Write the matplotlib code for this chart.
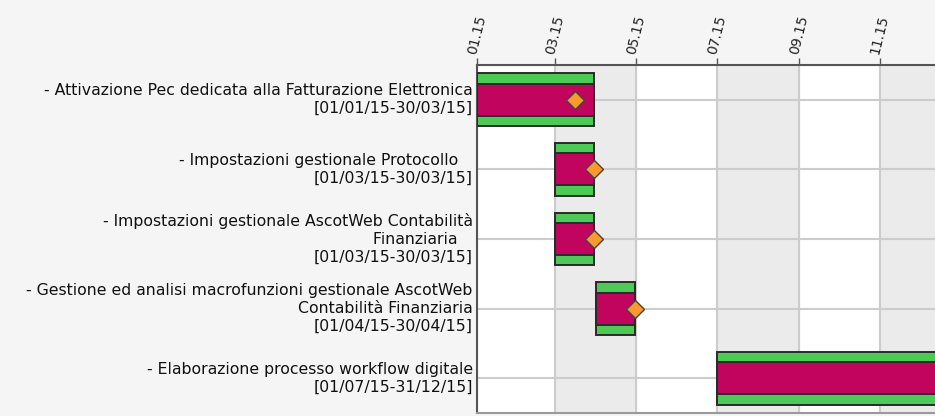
import matplotlib
matplotlib.use("Agg")
import matplotlib.pyplot as plt
import matplotlib.dates as mdates
import datetime as dt

# --------------------------
# Data
# --------------------------
tasks = [
    "- Attivazione Pec dedicata alla Fatturazione Elettronica\n[01/01/15-30/03/15]",
    "- Impostazioni gestionale Protocollo   \n[01/03/15-30/03/15]",
    "- Impostazioni gestionale AscotWeb Contabilità\nFinanziaria   \n[01/03/15-30/03/15]",
    "- Gestione ed analisi macrofunzioni gestionale AscotWeb\nContabilità Finanziaria\n[01/04/15-30/04/15]",
    "- Elaborazione processo workflow digitale\n[01/07/15-31/12/15]",
]
starts = ["2015-01-01", "2015-03-01", "2015-03-01", "2015-04-01", "2015-07-01"]
ends = ["2015-03-30", "2015-03-30", "2015-03-30", "2015-04-30", "2015-12-31"]
milestones = ["2015-03-16", "2015-03-30", "2015-03-30", "2015-04-30", None]

green = "#4cc957"
magenta = "#c1045e"
orange = "#fa9a2e"
edge = "#2a2a2a"

def d(s):
    return mdates.date2num(dt.datetime.strptime(s, "%Y-%m-%d"))

# --------------------------
# Figure
# --------------------------
fig = plt.figure(figsize=(9.35, 4.16), dpi=100, facecolor="#f5f5f5")
ax = fig.add_axes([477 / 935, 3 / 416, 482 / 935, 348 / 416])
ax.set_facecolor("white")

x0 = d("2015-01-01")
x1 = d("2015-12-31")
ax.set_xlim(x0, x1)
ax.set_ylim(len(tasks) - 0.5, -0.5)

# alternating month bands
band_edges = ["2015-01-01", "2015-03-01", "2015-05-01", "2015-07-01",
              "2015-09-01", "2015-11-01", "2016-01-01"]
for i in range(len(band_edges) - 1):
    if i % 2 == 1:
        ax.axvspan(d(band_edges[i]), d(band_edges[i + 1]), color="#ebebeb", zorder=0)

ax.xaxis.set_major_locator(mdates.MonthLocator(bymonth=[1, 3, 5, 7, 9, 11]))
ax.xaxis.set_major_formatter(mdates.DateFormatter("%m.%y"))
ax.xaxis.tick_top()
ax.tick_params(axis="x", which="major", length=5, width=1, color="#555555",
               labelsize=10, labelcolor="#222222", pad=2)
for lbl in ax.get_xticklabels():
    lbl.set_rotation(76)
    lbl.set_ha("center")
    lbl.set_va("bottom")

ax.set_yticks(range(len(tasks)))
ax.set_yticklabels(tasks, fontsize=11.3, color="#111111", linespacing=1.22,
                   ha="right", va="center")
ax.tick_params(axis="y", length=0, pad=3)

ax.grid(True, color="#cccccc", linewidth=1.5, zorder=1)
ax.set_axisbelow(True)

for side in ["top", "left"]:
    ax.spines[side].set_color("#555555")
    ax.spines[side].set_linewidth(1.5)
ax.spines["bottom"].set_color("#999999")
ax.spines["bottom"].set_linewidth(1.5)
ax.spines["right"].set_visible(False)

# bars
for i in range(len(tasks)):
    s = d(starts[i])
    w = d(ends[i]) - s
    ax.barh(i, w, left=s, height=0.76, color=green, edgecolor=edge,
            linewidth=1.4, zorder=3)
    ax.barh(i, w, left=s, height=0.46, color=magenta, edgecolor=edge,
            linewidth=1.4, zorder=4)
    if milestones[i] is not None:
        ax.plot(d(milestones[i]), i, marker="D", markersize=9, color=orange,
                markeredgecolor="#444444", markeredgewidth=1, zorder=5)

fig.savefig("out.png", dpi=100, facecolor=fig.get_facecolor())
